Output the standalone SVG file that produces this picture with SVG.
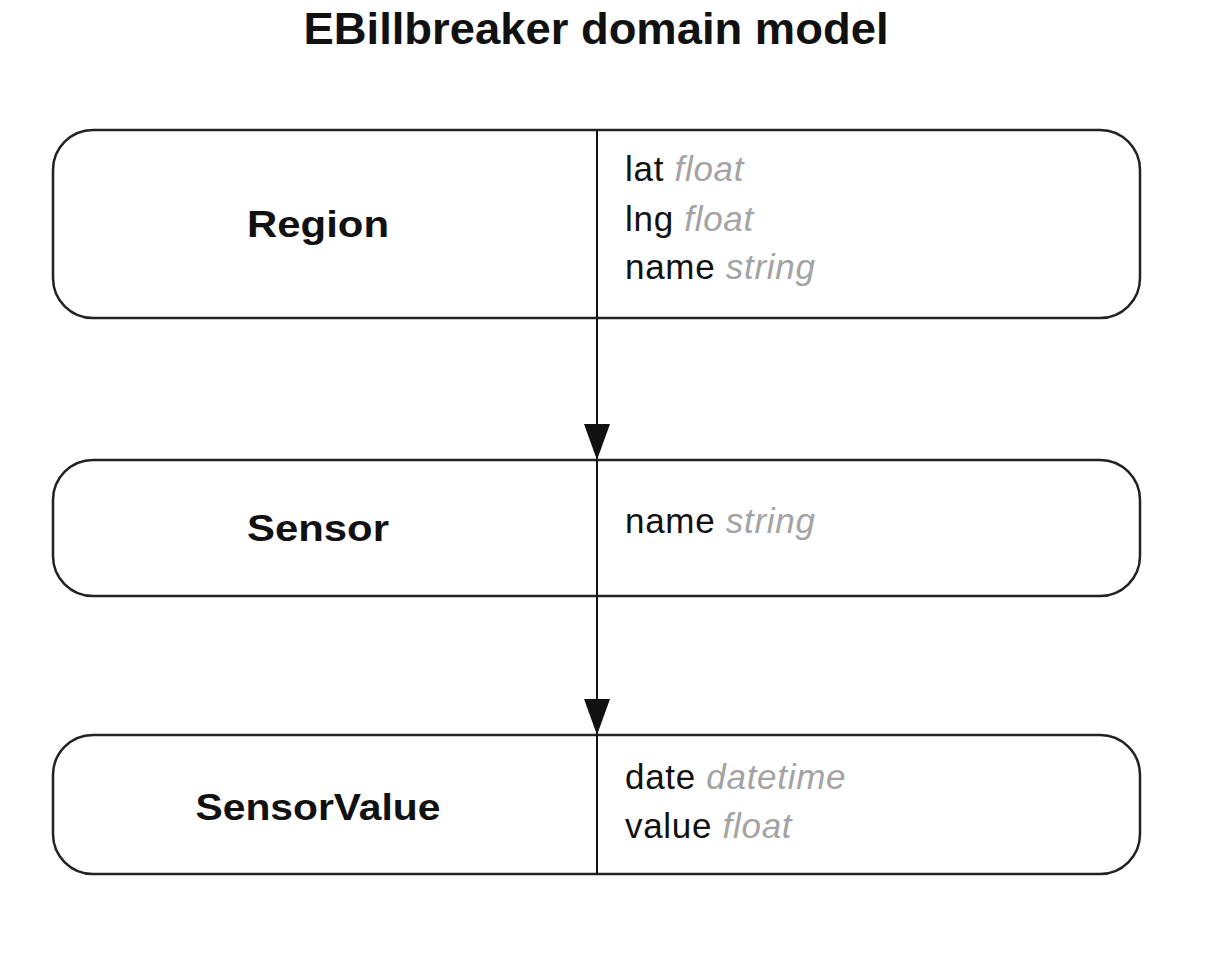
<svg xmlns="http://www.w3.org/2000/svg" width="1228" height="964" viewBox="0 0 1228 964">
<defs>
<style>
.box{fill:#fff;stroke:#222;stroke-width:2.5}
.div{stroke:#111;stroke-width:2}
.lbl{font-family:"Liberation Sans",Arial,sans-serif;font-weight:bold;font-size:36px;fill:#111;text-anchor:middle}
.attr{font-family:"Liberation Sans",Arial,sans-serif;font-size:35px;letter-spacing:0.7px;fill:#111}
.type{fill:#a3a3a3;font-style:italic}
.title{font-family:"Liberation Sans",Arial,sans-serif;font-weight:bold;font-size:44px;fill:#111;text-anchor:middle}
.edge{stroke:#111;stroke-width:2;fill:none}
</style>
<marker id="arrow" viewBox="0 0 36 26" refX="36" refY="13" markerWidth="36" markerHeight="26" markerUnits="userSpaceOnUse" orient="auto">
<path d="M0,0 L36,13 L0,26 Z" fill="#111"/>
</marker>
</defs>
<rect width="1228" height="964" fill="#fff"/>
<text class="title" x="596" y="44" textLength="585" lengthAdjust="spacingAndGlyphs">EBillbreaker domain model</text>
<g id="connectors">
<path class="edge" d="M597,318 V460" marker-end="url(#arrow)"/>
<path class="edge" d="M597,596 V735" marker-end="url(#arrow)"/>
</g>
<g id="Region">
<rect class="box" x="53" y="130" width="1087" height="188" rx="40" ry="40"/>
<line class="div" x1="597" y1="130" x2="597" y2="318"/>
<text class="lbl" x="318" y="237" textLength="142" lengthAdjust="spacingAndGlyphs">Region</text>
<text class="attr" x="625" y="181">lat <tspan class="type">float</tspan></text>
<text class="attr" x="625" y="231">lng <tspan class="type">float</tspan></text>
<text class="attr" x="625" y="279">name <tspan class="type">string</tspan></text>
</g>
<g id="Sensor">
<rect class="box" x="53" y="460" width="1087" height="136" rx="40" ry="40"/>
<line class="div" x1="597" y1="460" x2="597" y2="596"/>
<text class="lbl" x="318" y="541" textLength="142" lengthAdjust="spacingAndGlyphs">Sensor</text>
<text class="attr" x="625" y="533">name <tspan class="type">string</tspan></text>
</g>
<g id="SensorValue">
<rect class="box" x="53" y="735" width="1087" height="139" rx="40" ry="40"/>
<line class="div" x1="597" y1="735" x2="597" y2="874"/>
<text class="lbl" x="318" y="820" textLength="245" lengthAdjust="spacingAndGlyphs">SensorValue</text>
<text class="attr" x="625" y="789">date <tspan class="type">datetime</tspan></text>
<text class="attr" x="625" y="838">value <tspan class="type">float</tspan></text>
</g>
</svg>
